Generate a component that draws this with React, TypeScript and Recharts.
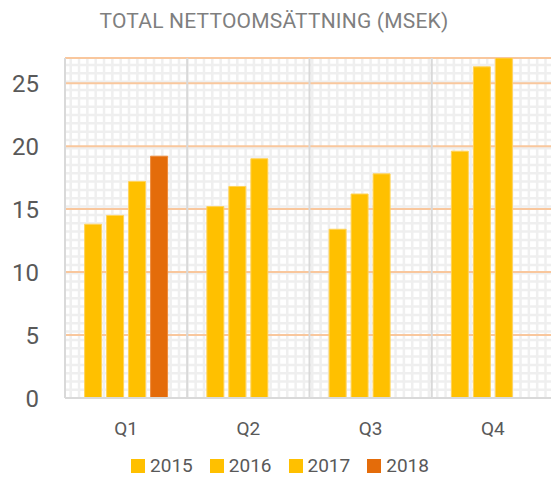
import { BarChart, Bar, XAxis, YAxis, CartesianGrid, Legend } from "recharts"

const quarters = ["Q1", "Q2", "Q3", "Q4"]
const sales2015 = [13.8, 15.2, 13.4, 19.6]
const sales2016 = [14.5, 16.8, 16.2, 26.3]
const sales2017 = [17.2, 19.0, 17.8, 27.0]
const sales2018: (number | null)[] = [19.2, null, null, null]
const yTicks = [0, 5, 10, 15, 20, 25]

const years = [
  { key: "y2015", name: "2015", color: "#FFC000" },
  { key: "y2016", name: "2016", color: "#FFC000" },
  { key: "y2017", name: "2017", color: "#FFC000" },
  { key: "y2018", name: "2018", color: "#E46C0A" },
]

const chartData = quarters.map((q, i) => ({
  name: q,
  y2015: sales2015[i],
  y2016: sales2016[i],
  y2017: sales2017[i],
  y2018: sales2018[i],
}))

const FONT = "Roboto, 'DejaVu Sans', sans-serif"
const MINOR = 8.33

// fine background grid, like the pattern fill in the original
const minorVertical = ({ offset }: any) => {
  const pts: number[] = []
  for (let x = offset.left + 5.7; x < offset.left + offset.width; x += MINOR) pts.push(x)
  return pts
}
const minorHorizontal = ({ offset }: any) => {
  const pts: number[] = []
  for (let y = offset.top + 7; y < offset.top + offset.height; y += MINOR) pts.push(y)
  return pts
}
// separators between the quarters
const quarterBounds = ({ offset }: any) =>
  quarters.map((_, i) => offset.left + (i * offset.width) / quarters.length)

const LegendContent = ({ payload }: any) => (
  <div
    style={{
      height: 31,
      boxSizing: "border-box",
      paddingTop: 6,
      paddingLeft: 6,
      display: "flex",
      justifyContent: "center",
      alignItems: "flex-start",
      fontFamily: FONT,
      fontSize: 19,
      color: "#595959",
    }}
  >
    {(payload || []).map((p: any, i: number) => (
      <div key={p.value} style={{ display: "flex", alignItems: "center", marginLeft: i ? 17 : 0, height: 23 }}>
        <span style={{ width: 14, height: 14, background: p.color, marginRight: 5, display: "inline-block" }} />
        <span style={{ lineHeight: "23px" }}>{p.value}</span>
      </div>
    ))}
  </div>
)

export default function App() {
  return (
    <div style={{ position: "absolute", left: 0, top: 0, width: 551, height: 479, overflow: "hidden", background: "#fff" }}>
      <div
        style={{
          position: "absolute",
          top: 9,
          left: 0,
          width: 548,
          textAlign: "center",
          fontFamily: FONT,
          fontSize: 21,
          fontWeight: 400,
          color: "#7f7f7f",
          letterSpacing: 0.2,
          zIndex: 2,
        }}
      >
        TOTAL NETTOOMSÄTTNING (MSEK)
      </div>
      <BarChart
        width={554}
        height={479}
        data={chartData}
        margin={{ top: 58, right: 0, bottom: 0, left: 0 }}
        barCategoryGap={19.6}
        barGap={5}
      >
        <CartesianGrid
          stroke="#efefef"
          strokeWidth={2.5}
          horizontalCoordinatesGenerator={minorHorizontal}
          verticalCoordinatesGenerator={minorVertical}
        />
        <CartesianGrid stroke="#F9C79D" strokeWidth={2} vertical={false} />
        <CartesianGrid stroke="#d9d9d9" strokeWidth={2} horizontal={false} verticalCoordinatesGenerator={quarterBounds} />
        <XAxis
          dataKey="name"
          height={50}
          tickSize={0}
          tickMargin={24}
          axisLine={{ stroke: "#d9d9d9", strokeWidth: 2 }}
          tick={{ fill: "#595959", fontSize: 19, fontFamily: FONT }}
        />
        <YAxis
          width={65}
          domain={[0, 27]}
          ticks={yTicks}
          allowDataOverflow
          tickSize={0}
          tickMargin={26}
          axisLine={false}
          tick={{ fill: "#595959", fontSize: 24, fontFamily: FONT }}
        />
        <Legend verticalAlign="bottom" height={31} content={<LegendContent />} />
        {years.map((y) => (
          <Bar
            key={y.key}
            dataKey={y.key}
            name={y.name}
            fill={y.color}
            stroke={y.key === "y2018" ? "#EE8A3A" : "#FFD35A"}
            strokeWidth={1}
            isAnimationActive={false}
          />
        ))}
      </BarChart>
    </div>
  )
}
